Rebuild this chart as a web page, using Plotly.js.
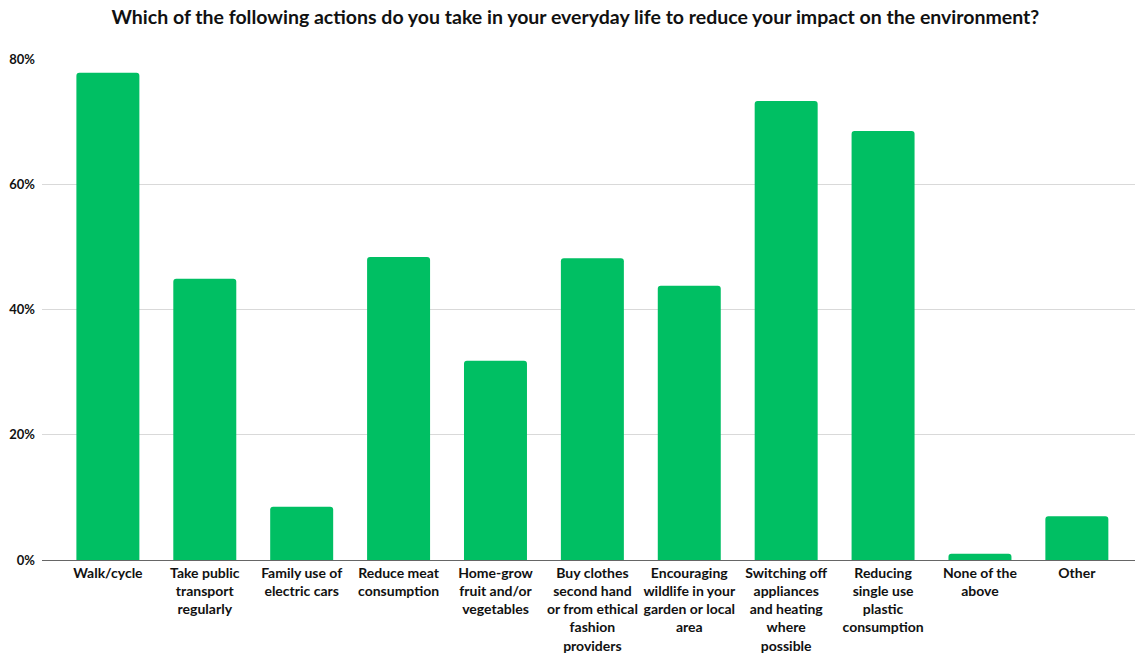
<!DOCTYPE html>
<html>
<head>
<meta charset="utf-8">
<script src="https://cdn.plot.ly/plotly-3.0.1.min.js"></script>
<style>html,body{margin:0;padding:0;background:#fff;}#chart{width:1135px;height:660px;}</style>
</head>
<body>
<div id="chart"></div>
<script>
const categories = [
  "Walk/cycle",
  "Take public<br>transport<br>regularly",
  "Family use of<br>electric cars",
  "Reduce meat<br>consumption",
  "Home-grow<br>fruit and/or<br>vegetables",
  "Buy clothes<br>second hand<br>or from ethical<br>fashion<br>providers",
  "Encouraging<br>wildlife in your<br>garden or local<br>area",
  "Switching off<br>appliances<br>and heating<br>where<br>possible",
  "Reducing<br>single use<br>plastic<br>consumption",
  "None of the<br>above",
  "Other"
];
const values = [0.778, 0.449, 0.085, 0.484, 0.318, 0.482, 0.438, 0.733, 0.685, 0.010, 0.070];
const yTicks = [0, 0.2, 0.4, 0.6, 0.8];
const yTickLabels = ["0%", "20%", "40%", "60%", "80%"];

const FONT = "Lato, 'Open Sans', sans-serif";

Plotly.newPlot('chart', [{
  type: 'bar',
  x: categories,
  y: values,
  marker: {color: '#00BF63', cornerradius: 3},
  hoverinfo: 'skip'
}], {
  width: 1135,
  height: 660,
  margin: {l: 42, r: 0, t: 59, b: 100},
  paper_bgcolor: '#fff',
  plot_bgcolor: '#fff',
  bargap: 0.35,
  title: {
    text: '<b>Which of the following actions do you take in your everyday life to reduce your impact on the environment?</b>',
    font: {family: FONT, size: 19.5, color: '#111'},
    x: 0.507, xanchor: 'center',
    y: 0.974, yanchor: 'middle', yref: 'container'
  },
  xaxis: {
    type: 'category',
    range: [-0.68, 10.6],
    tickfont: {family: FONT, size: 14, color: '#111', weight: 'bold'},
    tickangle: 0,
    showline: true, linecolor: '#666', linewidth: 1,
    ticks: '', showgrid: false, fixedrange: true
  },
  yaxis: {
    range: [0, 0.8],
    tickvals: yTicks,
    ticktext: yTickLabels,
    tickfont: {family: FONT, size: 13, color: '#111', weight: 'bold'},
    ticklabelstandoff: 6,
    showgrid: true, gridcolor: '#d9d9d9', gridwidth: 1,
    zeroline: false, ticks: '', fixedrange: true
  },
  showlegend: false
}, {displayModeBar: false, staticPlot: true});
</script>
</body>
</html>
